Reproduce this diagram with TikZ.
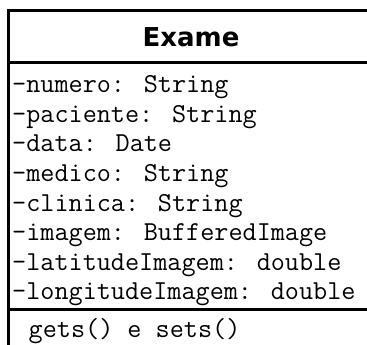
\documentclass[tikz,border=0pt]{standalone}
\usepackage{fontspec}
\newfontfamily\titlefont{DejaVu Sans}
\begin{document}
\begin{tikzpicture}[x=1pt,y=-1pt,
  frame/.style={line width=3pt,black},
  divider/.style={line width=2.6pt,black},
  attr/.style={anchor=base west,inner sep=0pt,
    font=\ttfamily\fontsize{27.4}{27.4}\selectfont},
  classname/.style={anchor=base,inner sep=0pt,
    font=\titlefont\bfseries\fontsize{26}{26}\selectfont}]
\useasboundingbox (0,0) rectangle (367,345);

% class outline: top and left edge, compartment dividers
\coordinate (tl) at (8.3,10.7);
\draw[frame] (367,10.7) -- (tl) -- (8.3,345);
\draw[divider] (8.3,62.7) -- (367,62.7);
\draw[divider] (8.3,309.5) -- (367,309.5);

% class name
\node[classname] (name) at (191,46.7) {Exame};

% attributes
\node[attr] (a1) at (12,92.7)  {-numero: String};
\node[attr] (a2) at (12,122.3) {-paciente: String};
\node[attr] (a3) at (12,151.9) {-data: Date};
\node[attr] (a4) at (12,181.5) {-medico: String};
\node[attr] (a5) at (12,211.1) {-clinica: String};
\node[attr] (a6) at (12,240.7) {-imagem: BufferedImage};
\node[attr] (a7) at (12,270.3) {-latitudeImagem: double};
\node[attr] (a8) at (12,299.9) {-longitudeImagem: double};

% operations
\node[attr] (m1) at (28.5,337) {gets() e sets()};
\end{tikzpicture}
\end{document}
